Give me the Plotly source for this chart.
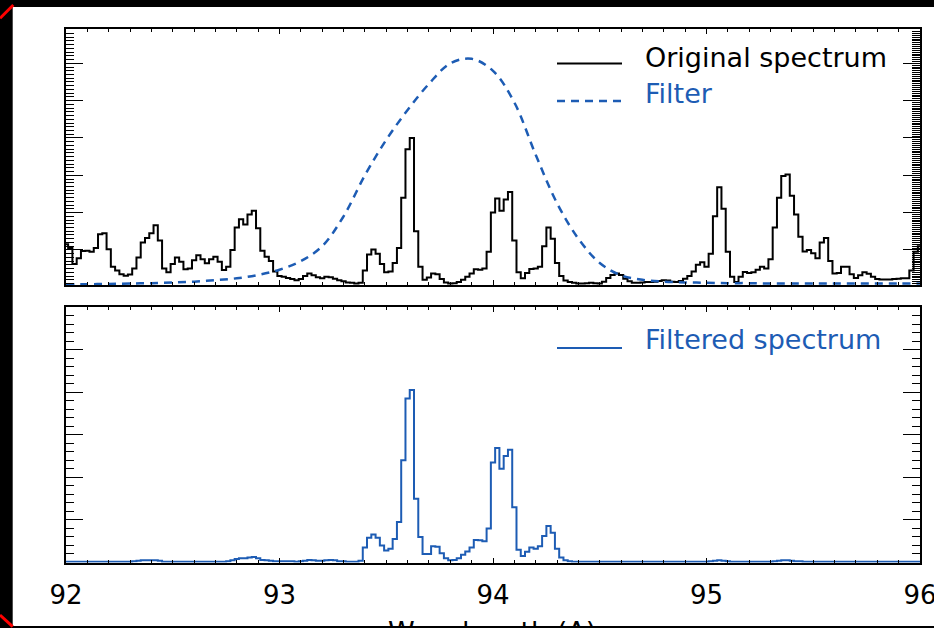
import numpy as np
import plotly.graph_objects as go

W, H = 934, 628

# Spectrum samples: every 0.02 A from 92.00 to 96.00
wavelength = np.round(np.linspace(92.0, 96.0, 201), 2)

original_spectrum = [
    1.15, 1.05, 0.62, 0.78, 0.97, 0.98, 0.95, 1.05, 1.42, 1.45,   # 92.00
    1.02, 0.55, 0.45, 0.35, 0.31, 0.34, 0.50, 0.80, 1.20, 1.32,   # 92.20
    1.45, 1.66, 1.25, 0.50, 0.40, 0.62, 0.80, 0.68, 0.48, 0.50,   # 92.40
    0.72, 0.86, 0.75, 0.64, 0.75, 0.82, 0.68, 0.46, 0.55, 1.00,   # 92.60
    1.60, 1.82, 1.68, 1.95, 2.05, 1.58, 0.98, 0.82, 0.70, 0.42,   # 92.80
    0.30, 0.28, 0.25, 0.22, 0.19, 0.22, 0.30, 0.37, 0.32, 0.27,   # 93.00
    0.24, 0.28, 0.27, 0.23, 0.19, 0.16, 0.13, 0.12, 0.10, 0.12,   # 93.20
    0.45, 0.88, 1.01, 0.90, 0.62, 0.40, 0.42, 0.65, 1.05, 2.40,   # 93.40
    3.70, 4.00, 1.50, 0.55, 0.20, 0.26, 0.37, 0.35, 0.22, 0.13,   # 93.60
    0.10, 0.11, 0.14, 0.20, 0.28, 0.37, 0.48, 0.47, 0.50, 0.95,   # 93.80
    2.00, 2.38, 2.05, 2.35, 2.55, 1.25, 0.40, 0.24, 0.38, 0.49,   # 94.00
    0.50, 0.55, 1.10, 1.60, 1.30, 0.65, 0.30, 0.18, 0.14, 0.12,   # 94.20
    0.10, 0.10, 0.11, 0.12, 0.11, 0.10, 0.15, 0.25, 0.33, 0.37,   # 94.40
    0.33, 0.23, 0.16, 0.12, 0.12, 0.13, 0.14, 0.14, 0.15, 0.17,   # 94.60
    0.19, 0.18, 0.15, 0.14, 0.17, 0.23, 0.30, 0.42, 0.60, 0.67,   # 94.80
    0.55, 0.90, 1.90, 2.68, 2.10, 0.95, 0.28, 0.14, 0.28, 0.41,   # 95.00
    0.38, 0.40, 0.47, 0.55, 0.50, 0.75, 1.60, 2.40, 2.98, 3.02,   # 95.20
    2.45, 1.95, 1.35, 0.96, 1.00, 0.91, 0.78, 1.20, 1.32, 0.70,   # 95.40
    0.37, 0.38, 0.55, 0.55, 0.35, 0.25, 0.32, 0.40, 0.36, 0.28,   # 95.60
    0.22, 0.21, 0.21, 0.21, 0.22, 0.23, 0.24, 0.24, 0.45, 0.95,   # 95.80
    1.10,                                                         # 96.00
]

filtered_spectrum = [
    0.02, 0.02, 0.02, 0.02, 0.02, 0.02, 0.02, 0.02, 0.02, 0.02,   # 92.00
    0.02, 0.02, 0.02, 0.02, 0.02, 0.02, 0.03, 0.04, 0.05, 0.05,   # 92.20
    0.05, 0.05, 0.04, 0.02, 0.02, 0.02, 0.02, 0.02, 0.02, 0.02,   # 92.40
    0.02, 0.02, 0.02, 0.02, 0.02, 0.02, 0.02, 0.02, 0.03, 0.05,   # 92.60
    0.08, 0.10, 0.10, 0.12, 0.13, 0.10, 0.06, 0.05, 0.04, 0.03,   # 92.80
    0.03, 0.03, 0.03, 0.03, 0.02, 0.03, 0.04, 0.06, 0.05, 0.04,   # 93.00
    0.04, 0.05, 0.06, 0.05, 0.03, 0.03, 0.02, 0.02, 0.02, 0.04,   # 93.20
    0.35, 0.58, 0.66, 0.58, 0.40, 0.28, 0.32, 0.55, 0.95, 2.40,   # 93.40
    3.85, 4.05, 1.50, 0.60, 0.20, 0.20, 0.38, 0.37, 0.22, 0.10,   # 93.60
    0.05, 0.06, 0.10, 0.18, 0.26, 0.35, 0.53, 0.52, 0.50, 0.80,   # 93.80
    2.35, 2.69, 2.20, 2.50, 2.65, 1.30, 0.30, 0.15, 0.25, 0.35,   # 94.00
    0.32, 0.38, 0.62, 0.86, 0.70, 0.32, 0.12, 0.05, 0.03, 0.02,   # 94.20
    0.02, 0.02, 0.02, 0.02, 0.02, 0.02, 0.02, 0.02, 0.02, 0.02,   # 94.40
    0.02, 0.02, 0.02, 0.02, 0.02, 0.02, 0.02, 0.02, 0.02, 0.02,   # 94.60
    0.02, 0.02, 0.02, 0.02, 0.02, 0.02, 0.02, 0.02, 0.02, 0.02,   # 94.80
    0.02, 0.03, 0.04, 0.05, 0.04, 0.03, 0.02, 0.02, 0.02, 0.02,   # 95.00
    0.02, 0.02, 0.02, 0.02, 0.02, 0.02, 0.03, 0.04, 0.05, 0.05,   # 95.20
    0.04, 0.03, 0.03, 0.02, 0.02, 0.02, 0.02, 0.02, 0.02, 0.02,   # 95.40
    0.02, 0.02, 0.02, 0.02, 0.02, 0.02, 0.02, 0.02, 0.02, 0.02,   # 95.60
    0.02, 0.02, 0.02, 0.02, 0.02, 0.02, 0.02, 0.02, 0.02, 0.02,   # 95.80
    0.02,                                                         # 96.00
]

# Filter transmission, sampled every 0.1 A
filter_wavelength = np.round(np.linspace(92.0, 96.0, 41), 1)
filter_curve = [
    0.08, 0.08, 0.09, 0.10, 0.11, 0.13, 0.15, 0.19, 0.24, 0.33,   # 92.0
    0.47, 0.70, 1.10, 1.90, 3.00, 3.95, 4.75, 5.45, 6.00, 6.12,   # 93.0
    5.80, 4.95, 3.55, 2.25, 1.30, 0.65, 0.32, 0.20, 0.15, 0.13,   # 94.0
    0.12, 0.11, 0.11, 0.10, 0.10, 0.10, 0.10, 0.10, 0.10, 0.10,   # 95.0
    0.10,                                                         # 96.0
]

x_ticks = [92, 93, 94, 95, 96]
x_tick_labels = ["92", "93", "94", "95", "96"]
x_title = "Wavelength (A)"
legend_top = ["Original spectrum", "Filter"]
legend_bottom = ["Filtered spectrum"]

BLUE = "#1d5cb4"
FONT = "DejaVu Sans"
DASH = "8px,6px"


def fx(px):
    return px / W


def fy(py):
    return 1 - py / H


fig = go.Figure()
fig.add_trace(go.Scatter(
    x=wavelength, y=original_spectrum, mode="lines",
    line=dict(color="black", width=2, shape="hvh"),
    xaxis="x", yaxis="y", hoverinfo="skip"))
fig.add_trace(go.Scatter(
    x=filter_wavelength, y=filter_curve, mode="lines",
    line=dict(color=BLUE, width=2.5, dash=DASH, shape="spline", smoothing=1.0),
    xaxis="x", yaxis="y", hoverinfo="skip"))
# empty trace so the right-hand tick axis of the upper panel is laid out
fig.add_trace(go.Scatter(x=[None], y=[None], xaxis="x", yaxis="y3",
                         hoverinfo="skip"))
fig.add_trace(go.Scatter(
    x=wavelength, y=filtered_spectrum, mode="lines",
    line=dict(color=BLUE, width=2, shape="hvh"),
    xaxis="x2", yaxis="y2", hoverinfo="skip"))

x_domain = [fx(66), fx(920)]
xbase = dict(
    domain=x_domain, range=[92, 96], showline=True, linecolor="black",
    linewidth=2, mirror="ticks", ticks="inside", ticklen=5, tickwidth=1,
    tickcolor="black", tickmode="array", tickvals=x_ticks,
    ticktext=x_tick_labels, automargin=False,
    minor=dict(tick0=92, dtick=0.1, ticks="inside", ticklen=3, tickwidth=1,
               tickcolor="black"),
    showgrid=False, zeroline=False,
)
ybase = dict(
    showline=True, linecolor="black", linewidth=2, ticks="inside",
    ticklen=17, tickwidth=1, tickcolor="black", tick0=0, dtick=1,
    showticklabels=False, showgrid=False, zeroline=False, automargin=False,
)

top_range = [0.06, 6.92]
top_domain = [fy(285), fy(29)]

fig.update_layout(
    width=W, height=H,
    margin=dict(l=0, r=0, t=0, b=0, pad=0),
    paper_bgcolor="white", plot_bgcolor="white",
    showlegend=False,
    xaxis=dict(xbase, anchor="y", showticklabels=False),
    xaxis2=dict(xbase, anchor="y2", showticklabels=True,
                ticklabeloverflow="allow", ticklabelstandoff=8,
                tickfont=dict(family=FONT, size=26, color="black")),
    yaxis=dict(ybase, domain=top_domain, range=top_range, anchor="x",
               mirror=False,
               minor=dict(tick0=0, dtick=0.1, ticks="inside", ticklen=8,
                          tickwidth=1, tickcolor="black")),
    yaxis3=dict(ybase, overlaying="y", side="right", anchor="x",
                range=top_range,
                minor=dict(tick0=0, dtick=0.05, ticks="inside", ticklen=8,
                           tickwidth=1, tickcolor="black")),
    yaxis2=dict(ybase, domain=[fy(562.5), fy(307)], range=[0, 6],
                anchor="x2", mirror="ticks",
                minor=dict(tick0=0, dtick=0.2, ticks="inside", ticklen=8,
                           tickwidth=1, tickcolor="black")),
)

shapes = []
# legend samples
shapes.append(dict(type="line", xref="paper", yref="paper",
                   x0=fx(557), x1=fx(622), y0=fy(63.5), y1=fy(63.5),
                   line=dict(color="black", width=2)))
shapes.append(dict(type="line", xref="paper", yref="paper",
                   x0=fx(557), x1=fx(622), y0=fy(101), y1=fy(101),
                   line=dict(color=BLUE, width=2.5, dash=DASH)))
shapes.append(dict(type="line", xref="paper", yref="paper",
                   x0=fx(557), x1=fx(622), y0=fy(348), y1=fy(348),
                   line=dict(color=BLUE, width=2)))
# black frame strips
for x0, x1, y0, y1 in [(0, W, 0, 7), (0, 12.7, 0, H), (0, W, 626, H)]:
    shapes.append(dict(type="rect", xref="paper", yref="paper",
                       x0=fx(x0), x1=fx(x1), y0=fy(y1), y1=fy(y0),
                       fillcolor="black", line=dict(width=0), layer="above"))
# red corner marks
for (ax, ay), (bx, by) in [((0, 18.3), (13.3, 5)), ((0, 615), (12.7, 626.7))]:
    shapes.append(dict(type="line", xref="paper", yref="paper",
                       x0=fx(ax), y0=fy(ay), x1=fx(bx), y1=fy(by),
                       line=dict(color="red", width=3), layer="above"))
fig.update_layout(shapes=shapes)

annotations = [
    dict(text=legend_top[0], x=fx(643), y=fy(57), color="black"),
    dict(text=legend_top[1], x=fx(643), y=fy(93.5), color=BLUE),
    dict(text=legend_bottom[0], x=fx(643), y=fy(339.5), color=BLUE),
]
for a in annotations:
    fig.add_annotation(text=a["text"], x=a["x"], y=a["y"], xref="paper",
                       yref="paper", xanchor="left", yanchor="middle",
                       showarrow=False,
                       font=dict(family=FONT, size=27, color=a["color"]))
fig.add_annotation(text=x_title, x=fx(492), y=fy(614), xref="paper",
                   yref="paper", xanchor="center", yanchor="top",
                   showarrow=False,
                   font=dict(family=FONT, size=27, color="black"))

fig.write_html("out.html")
